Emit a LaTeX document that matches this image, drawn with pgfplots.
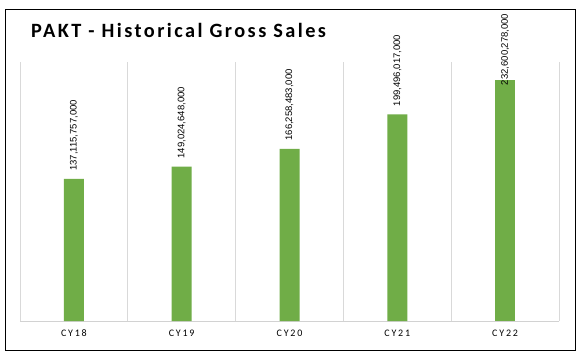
\documentclass[border=0pt]{standalone}
\usepackage{fontspec}
\setmainfont{Liberation Sans}
\newfontfamily\titlefont[LetterSpace=12]{Carlito}
\newfontfamily\tickfont[LetterSpace=18]{Carlito}
\usepackage{pgfplots}
\pgfplotsset{compat=1.18}
\definecolor{barg}{HTML}{70AD47}
\begin{document}
\begin{tikzpicture}
\path[fill=white] (0,0) rectangle (581pt,354pt);
\draw[black, line width=1pt] (5pt,4pt) rectangle (575pt,344pt);
\node[anchor=base west, inner sep=0pt, font=\titlefont\bfseries\fontsize{20.3}{24}\selectfont] at (31pt,316pt) {PAKT - Historical Gross Sales};
\begin{axis}[at={(20pt,33pt)}, anchor=south west, scale only axis,
  width=539pt, height=259pt,
  xmin=-0.5, xmax=4.5, ymin=0, ymax=250e9,
  axis y line=none, axis x line*=bottom,
  x axis line style={draw=gray!35, line width=0.8pt},
  ytick=\empty,
  xtick={0,1,2,3,4}, xticklabels={CY18,CY19,CY20,CY21,CY22},
  major tick length=0pt,
  xticklabel style={font=\tickfont\fontsize{10}{12}\selectfont, yshift=-5pt},
  extra x ticks={-0.5,0.5,1.5,2.5,3.5,4.5}, extra x tick labels={},
  extra x tick style={grid=major, major grid style={draw=gray!30, line width=0.8pt}},
  ybar, bar width=20pt,
  point meta=explicit symbolic,
  nodes near coords,
  every node near coord/.append style={rotate=90, anchor=west, font=\fontsize{9.5}{11}\selectfont, inner ysep=0pt, inner xsep=8pt},
  clip=false]
\addplot[fill=barg, draw=none, bar shift=0pt] table[x=x, y=y, meta=lab] {
x y lab
0 137115757000 137,115,757,000
1 149024648000 149,024,648,000
2 166258483000 166,258,483,000
3 199496017000 199,496,017,000
};
\addplot[fill=barg, draw=none, bar shift=0pt, every node near coord/.append style={inner xsep=0pt, outer xsep=-5pt}] table[x=x, y=y, meta=lab] {
x y lab
4 232600278000 232,600,278,000
};
\end{axis}
\end{tikzpicture}
\end{document}
